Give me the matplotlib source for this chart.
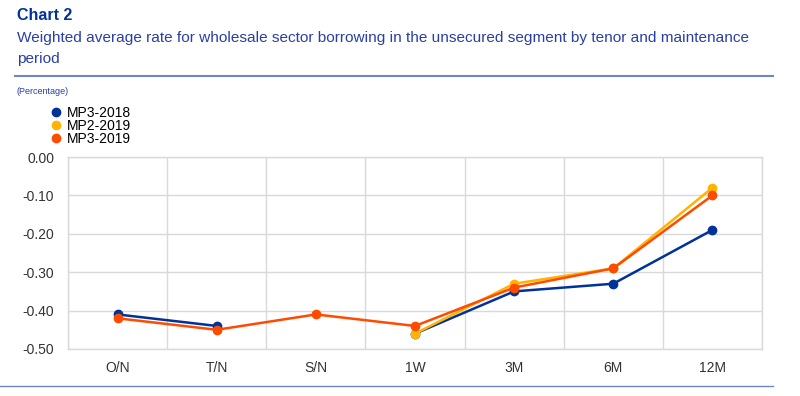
import numpy as np
import matplotlib
matplotlib.use('Agg')
import matplotlib.pyplot as plt
from matplotlib.lines import Line2D

plt.rcParams['font.family'] = ['Liberation Sans', 'DejaVu Sans']

# ── Data ──────────────────────────────────────────────────────────────────────
tenors = ['O/N', 'T/N', 'S/N', '1W', '3M', '6M', '12M']
mp3_2018 = [-0.41, -0.44, np.nan, -0.46, -0.35, -0.33, -0.19]
mp2_2019 = [np.nan, np.nan, np.nan, -0.46, -0.33, -0.29, -0.08]
mp3_2019 = [-0.42, -0.45, -0.41, -0.44, -0.34, -0.29, -0.10]
yticks = [-0.5, -0.4, -0.3, -0.2, -0.1, 0.0]

series = [
    ('MP3-2018', mp3_2018, '#003299'),
    ('MP2-2019', mp2_2019, '#FFB400'),
    ('MP3-2019', mp3_2019, '#FF4B00'),
]

# ── Figure ────────────────────────────────────────────────────────────────────
fig = plt.figure(figsize=(8.0, 3.96), dpi=100)
ax = fig.add_axes([0.085, 0.1187, 0.8675, 0.4848])

x = np.arange(len(tenors))
for label, vals, col in series:
    ax.plot(x, vals, color=col, linewidth=1.8, marker='o', markersize=6,
            label=label, zorder=3)

ax.set_xlim(-0.5, len(tenors) - 0.5)
ax.set_ylim(-0.5, 0.0)
ax.set_yticks(yticks)
ax.set_yticklabels(['0.00' if v == 0 else f'{v:.2f}' for v in yticks])
ax.set_xticks(x)
ax.set_xticklabels(tenors)
ax.set_xticks(np.arange(-0.5, len(tenors), 1.0), minor=True)
ax.grid(axis='y', which='major', color='#d9d9d9', linewidth=1)
ax.grid(axis='x', which='minor', color='#d9d9d9', linewidth=1)
ax.tick_params(which='both', length=0, labelsize=10, colors='#333333')
ax.tick_params(axis='x', pad=9)
ax.tick_params(axis='y', pad=10)
for sp in ax.spines.values():
    sp.set_color('#d9d9d9')
    sp.set_linewidth(1)

# legend: markers only, tight spacing
handles = [Line2D([0], [0], marker='o', color='none', markerfacecolor=c,
                  markeredgecolor=c, markersize=6, label=l) for l, _, c in series]
fig.legend(handles=handles, loc='upper left', bbox_to_anchor=(0.054, 0.751),
           frameon=False, fontsize=10, labelspacing=-0.05, handletextpad=0.4,
           handlelength=0.8, borderpad=0)

# ── Header / footer ───────────────────────────────────────────────────────────
fig.text(0.021, 0.962, 'Chart 2', fontsize=11.5, fontweight='bold',
         color='#003299', va='center')
fig.text(0.021, 0.905, 'Weighted average rate for wholesale sector borrowing in the '
         'unsecured segment by tenor and maintenance', fontsize=11.1,
         color='#2a3fa6', va='center')
fig.text(0.021, 0.852, 'period', fontsize=11.1, color='#2a3fa6', va='center')
fig.text(0.021, 0.770, '(Percentage)', fontsize=6.5, color='#2a3fa6', va='center')

fig.add_artist(Line2D([0.019, 0.966], [0.808, 0.808], color='#6d87c5',
                      linewidth=1.5, transform=fig.transFigure))
fig.add_artist(Line2D([0.0, 0.966], [0.025, 0.025], color='#6d87c5',
                      linewidth=1.0, transform=fig.transFigure))

plt.savefig('out.png', dpi=100)
plt.close()
